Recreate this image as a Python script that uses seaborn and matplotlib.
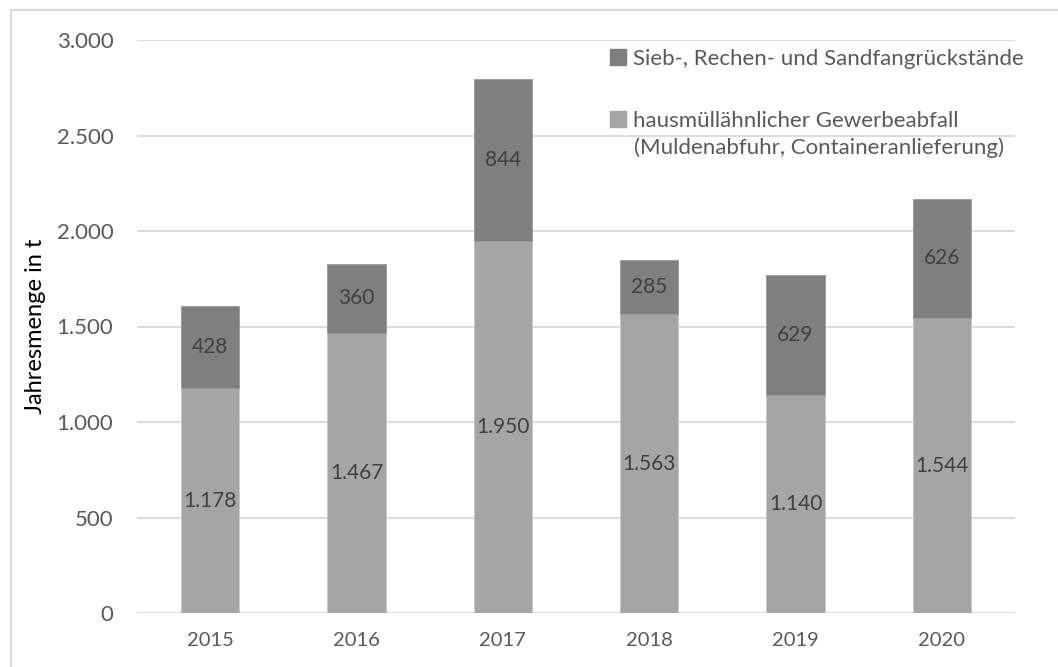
import matplotlib
matplotlib.use("Agg")
import matplotlib.pyplot as plt
import seaborn as sns
import pandas as pd
from matplotlib.lines import Line2D
from matplotlib.patches import Rectangle

years = ["2015", "2016", "2017", "2018", "2019", "2020"]
gewerbe = [1178, 1467, 1950, 1563, 1140, 1544]
sieb = [428, 360, 844, 285, 629, 626]
yticks = [0, 500, 1000, 1500, 2000, 2500, 3000]

label_sieb = "Sieb-, Rechen- und Sandfangrückstände"
label_gew1 = "hausmüllähnlicher Gewerbeabfall"
label_gew2 = "(Muldenabfuhr, Containeranlieferung)"
ylabel = "Jahresmenge in t"

def de(v):
    return f"{v:,}".replace(",", ".")

sns.set_theme(style="white")
plt.rcParams["font.family"] = ["Lato", "DejaVu Sans"]

c_light = "#a5a5a5"
c_dark = "#7f7f7f"
txt = "#595959"

df = pd.DataFrame({"year": years, "gew": gewerbe, "sieb": sieb})

fig = plt.figure(figsize=(10.58, 6.67), dpi=100)
ax = fig.add_axes([137/1058, 1-613/667, (1015-137)/1058, (613-40)/667])

sns.barplot(data=df, x="year", y="gew", color=c_light, width=0.4, ax=ax,
            saturation=1, edgecolor="#c8c8c8", linewidth=0.6, zorder=3)
sns.barplot(data=df, x="year", y="sieb", bottom=df["gew"], color=c_dark, width=0.4, ax=ax,
            saturation=1, edgecolor="#9a9a9a", linewidth=0.6, zorder=3)

for i, (g, s) in enumerate(zip(gewerbe, sieb)):
    ax.text(i, g/2, de(g), ha="center", va="center", fontsize=15, color="#404040", zorder=4)
    ax.text(i, g + s/2, de(s), ha="center", va="center", fontsize=15, color="#404040", zorder=4)

ax.set_ylim(0, 3000)
ax.set_xlim(-0.5, 5.5)
ax.set_yticks(yticks)
ax.set_yticklabels([de(v) for v in yticks])
ax.yaxis.grid(True, color="#d9d9d9", linewidth=1.3, zorder=0)
ax.set_axisbelow(True)
for sp in ax.spines.values():
    sp.set_visible(False)
ax.tick_params(axis="y", length=0, pad=17, labelsize=16, labelcolor=txt)
ax.tick_params(axis="x", length=0, pad=14, labelsize=14.5, labelcolor=txt)
ax.set_xlabel("")
ax.set_ylabel(ylabel, fontsize=17, color="black", labelpad=8)

handles = [Line2D([], [], marker="s", linestyle="none", color=c_dark, markersize=11),
           Line2D([], [], marker="s", linestyle="none", color=c_light, markersize=11)]
leg = ax.legend(handles, [label_sieb, label_gew1], loc="upper left",
                bbox_to_anchor=(610/1058, 1-49/667), bbox_transform=fig.transFigure,
                frameon=False, fontsize=16, labelspacing=1.9, handlelength=0.75,
                handletextpad=0.3, borderpad=0, borderaxespad=0)
for t in leg.get_texts():
    t.set_color(txt)
fig.text(634/1058, 1-148/667, label_gew2, fontsize=16, color=txt, ha="left", va="center")

fig.patches.append(Rectangle((11/1058, -0.5), 2, 0.5 + 1 - 10/667, transform=fig.transFigure,
                             fill=False, edgecolor="#d9d9d9", linewidth=1.5))

fig.savefig("out.png", dpi=100)
